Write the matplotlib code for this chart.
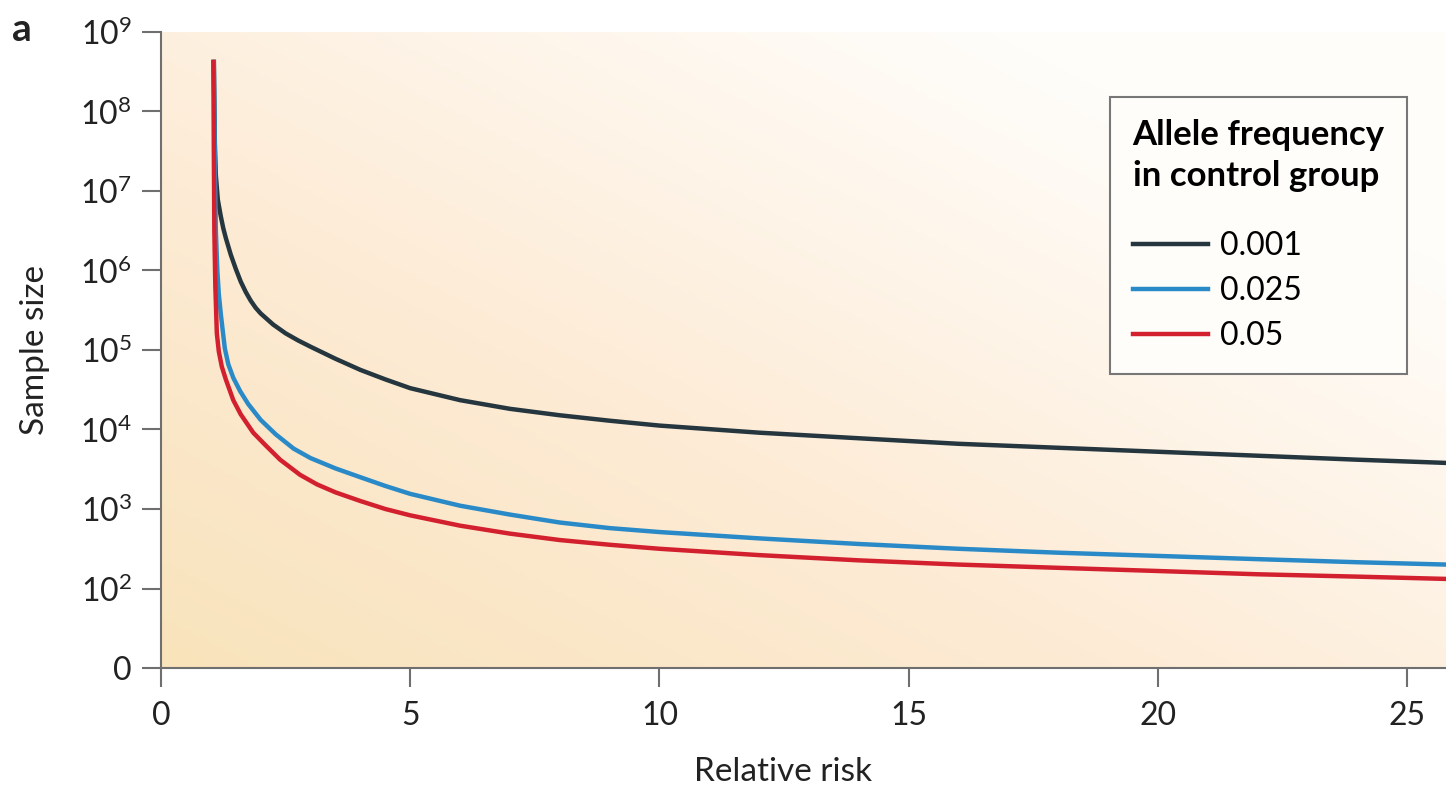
import numpy as np
import matplotlib
matplotlib.use("Agg")
import matplotlib.pyplot as plt
from matplotlib.ticker import FixedLocator, NullLocator

plt.rcParams['font.family'] = ['Lato', 'DejaVu Sans']
plt.rcParams['mathtext.fontset'] = 'custom'
plt.rcParams['mathtext.rm'] = 'Lato'

# values (relative risk vs. required sample size)
rr_001 = [1.06, 1.08, 1.10, 1.14, 1.2, 1.25, 1.3, 1.4, 1.5, 1.6, 1.7, 1.8, 1.9,
          2.0, 2.25, 2.5, 2.75, 3.0, 3.5, 4.0, 4.5, 5.0, 6.0, 7.0, 8.0, 9.0, 10,
          12, 14, 16, 18, 20, 22, 24, 25.78]
n_001 = [4.2e8, 4.0e7, 1.58e7, 7.76e6, 4.79e6, 3.39e6, 2.57e6, 1.58e6, 1.05e6,
         7.24e5, 5.37e5, 4.17e5, 3.39e5, 2.88e5, 2.09e5, 1.62e5, 1.32e5, 1.10e5,
         7.76e4, 5.62e4, 4.27e4, 3.31e4, 2.34e4, 1.82e4, 1.51e4, 1.29e4,
         1.12e4, 9.12e3, 7.76e3, 6.61e3, 5.89e3, 5.25e3, 4.68e3, 4.17e3, 3.8e3]

rr_025 = [1.06, 1.08, 1.10, 1.13, 1.16, 1.2, 1.28, 1.35, 1.45, 1.59, 1.75, 2.0,
          2.3, 2.66, 3.0, 3.5, 4.0, 4.5, 5.0, 6.0, 7.0, 8.0, 9.0, 10, 12, 14,
          16, 18, 20, 22, 24, 25.78]
n_025 = [4.2e8, 2.51e7, 3.16e6, 1.0e6, 5.01e5, 2.82e5, 1.05e5, 6.61e4, 4.47e4,
         3.02e4, 2.09e4, 1.32e4, 8.71e3, 5.75e3, 4.37e3, 3.24e3, 2.51e3,
         1.95e3, 1.55e3, 1.10e3, 8.51e2, 6.76e2, 5.75e2, 5.13e2, 4.27e2,
         3.63e2, 3.16e2, 2.82e2, 2.57e2, 2.34e2, 2.14e2, 2.0e2]

rr_05 = [1.05, 1.06, 1.07, 1.09, 1.12, 1.16, 1.22, 1.3, 1.45, 1.6, 1.85, 2.1,
         2.39, 2.79, 3.13, 3.5, 4.0, 4.5, 5.0, 6.0, 7.0, 8.0, 9.0, 10, 12, 14,
         16, 18, 20, 22, 24, 25.78]
n_05 = [4.2e8, 3.16e7, 3.16e6, 6.31e5, 1.62e5, 9.55e4, 6.17e4, 4.27e4, 2.34e4,
        1.55e4, 9.12e3, 6.31e3, 4.17e3, 2.69e3, 2.04e3, 1.62e3, 1.26e3, 1.0e3,
        8.32e2, 6.17e2, 4.9e2, 4.07e2, 3.55e2, 3.16e2, 2.63e2, 2.26e2, 2.0e2,
        1.82e2, 1.66e2, 1.51e2, 1.41e2, 1.32e2]

labels = ['0.001', '0.025', '0.05']
colors = ['#25363f', '#2a8ac8', '#d3202f']

y_ticks = [1e1, 1e2, 1e3, 1e4, 1e5, 1e6, 1e7, 1e8, 1e9]
y_labels = ['0'] + [r'$\mathregular{10^{%d}}$' % k for k in range(2, 10)]
x_ticks = [0, 5, 10, 15, 20, 25]

W, H = 1446, 787
fig = plt.figure(figsize=(W / 100, H / 100), dpi=100)
ax = fig.add_axes([161 / W, (H - 668) / H, (W - 161) / W, (668 - 32) / H])

# warm background gradient
gx, gy = np.meshgrid(np.linspace(0, 1, 300), np.linspace(0, 1, 200))
t = np.clip(0.62 * gx + 0.6 * gy, 0, 1) ** 0.9
stops = np.array([[248, 227, 186], [253, 235, 213], [255, 253, 250]]) / 255.0
img = np.zeros(gx.shape + (3,))
for c in range(3):
    img[..., c] = np.interp(t, [0, 0.5, 1], stops[:, c])
ax.imshow(img, extent=[0, 1, 0, 1], origin='lower', transform=ax.transAxes,
          aspect='auto', zorder=0)

ax.plot(rr_001, n_001, color=colors[0], lw=3.2, label=labels[0], zorder=3)
ax.plot(rr_025, n_025, color=colors[1], lw=3.2, label=labels[1], zorder=4)
ax.plot(rr_05, n_05, color=colors[2], lw=3.2, label=labels[2], zorder=5)

ax.set_yscale('log')
ax.set_xlim(0, 25.78)
ax.set_ylim(1e1, 1e9)
ax.yaxis.set_major_locator(FixedLocator(y_ticks))
ax.yaxis.set_minor_locator(NullLocator())
ax.set_yticklabels(y_labels)
ax.set_xticks(x_ticks)

for s in ['top', 'right']:
    ax.spines[s].set_visible(False)
for s in ['left', 'bottom']:
    ax.spines[s].set_color('#6f6f6f')
    ax.spines[s].set_linewidth(1.5)
ax.tick_params(axis='both', direction='out', length=14, width=1.5,
               color='#6f6f6f', labelsize=23, labelcolor='#222222')
ax.tick_params(axis='y', pad=7)
ax.tick_params(axis='x', pad=10)

ax.set_xlabel('Relative risk', fontsize=24, color='#222222')
ax.set_ylabel('Sample size', fontsize=24, color='#222222')
ax.xaxis.set_label_coords((783 - 161) / 1285, (668 - 757) / 636)
ax.yaxis.set_label_coords((50 - 161) / 1285, 0.5)

leg = ax.legend(title='Allele frequency\nin control group', loc='upper right',
                bbox_to_anchor=((1407 - 161) / 1285, (668 - 97) / 636),
                borderaxespad=0, fontsize=23, handlelength=2.35,
                handletextpad=0.4, labelspacing=0.47, borderpad=0.7,
                frameon=True, fancybox=False, alignment='left',
                title_fontproperties={'weight': 'bold', 'size': 25})
leg.get_title().set_linespacing(1.35)
leg._legend_box.sep = 28
leg.get_frame().set_facecolor('#fffdf9')
leg.get_frame().set_edgecolor('#777777')
leg.get_frame().set_linewidth(1.5)
leg.get_frame().set_alpha(1)
leg.set_zorder(10)

fig.text(12 / W, 1 - 12 / H, 'a', fontsize=28, fontweight='bold', va='top',
         ha='left', color='#222222')

fig.savefig('out.png', dpi=100)
